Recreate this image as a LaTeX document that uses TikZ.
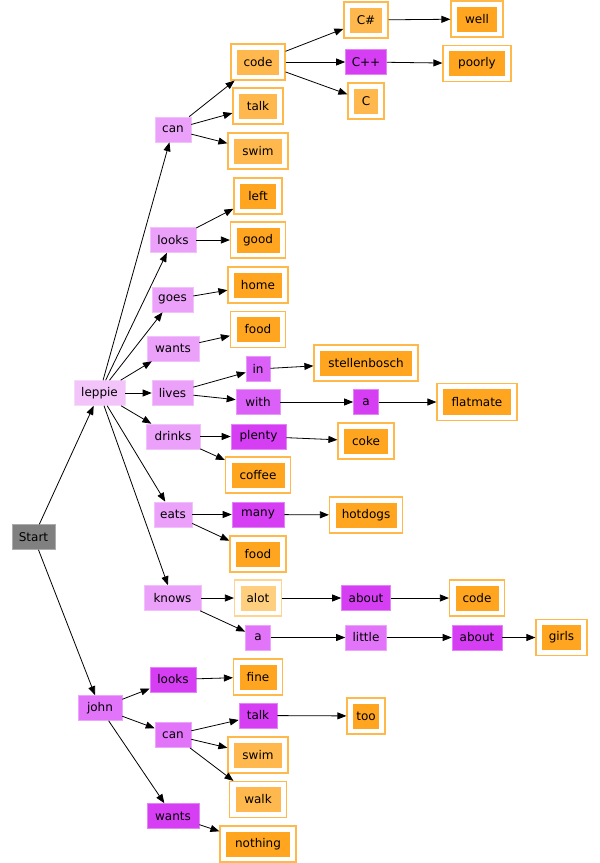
\documentclass[tikz,border=0pt]{standalone}
\usepackage{fontspec}
\setmainfont{DejaVu Sans}
\usetikzlibrary{arrows.meta}
\definecolor{cstart}{HTML}{808080}
\definecolor{czero}{HTML}{F2C4FA}
\definecolor{cone}{HTML}{EBA0F9}
\definecolor{ctwo}{HTML}{E274F9}
\definecolor{cthree}{HTML}{DA60F7}
\definecolor{cfour}{HTML}{D63EF4}
\definecolor{odark}{HTML}{FFA520}
\definecolor{olight}{HTML}{FFB84D}
\definecolor{ovlight}{HTML}{FFCF80}
\definecolor{obord}{HTML}{FFB84A}
\definecolor{obordlight}{HTML}{FFD490}
\tikzset{
  box/.style={rectangle, inner sep=0pt, minimum height=25pt, fill=#1, draw=#1!65!white, line width=0.6pt,
    font=\fontsize{12}{14}\selectfont},
  leaf/.style={rectangle, inner sep=0pt, minimum height=36pt, draw=obord, line width=1.2pt, fill=white,
    font=\fontsize{12}{14}\selectfont,
    path picture={\fill[#1] ([shift={(6pt,5.5pt)}]path picture bounding box.south west) rectangle ([shift={(-6pt,-5.5pt)}]path picture bounding box.north east);}},
  leaf/.default=odark,
  link/.style={-{Triangle[length=9pt,width=7pt]}, line width=0.8pt, black}
}
\begin{document}
\begin{tikzpicture}[x=1pt,y=-1pt]
\useasboundingbox (0,0) rectangle (600,863);
% level 0/1
\node[box=cstart, minimum width=43pt] (start) at (33.5,537) {Start};
\node[box=czero, minimum width=51pt] (leppie) at (99.5,393) {leppie};
\node[box=ctwo, minimum width=44pt] (john) at (100,708) {john};
% leppie children
\node[box=cone, minimum width=36pt] (can) at (173,129.5) {can};
\node[box=cone, minimum width=46pt] (looks) at (173,240) {looks};
\node[box=cone, minimum width=41pt] (goes) at (172.5,299.5) {goes};
\node[box=cone, minimum width=52pt] (wants) at (173,348.5) {wants};
\node[box=cone, minimum width=41pt] (lives) at (172.5,393) {lives};
\node[box=cone, minimum width=54pt] (drinks) at (173,436.5) {drinks};
\node[box=cone, minimum width=38pt] (eats) at (173,514.5) {eats};
\node[box=cone, minimum width=57pt] (knows) at (172.5,598) {knows};
% can subtree
\node[leaf=olight, minimum width=54pt] (code) at (258,62) {code};
\node[leaf=olight, minimum width=50pt] (talk) at (258,106) {talk};
\node[leaf=olight, minimum width=60pt] (swim) at (258,151) {swim};
\node[leaf=olight, minimum width=44pt] (csharp) at (366,20) {C\#};
\node[box=cfour, minimum width=41pt] (cpp) at (366,62) {C++};
\node[leaf=olight, minimum width=36pt] (cc) at (366,101) {C};
\node[leaf, minimum width=52pt] (well) at (477,19) {well};
\node[leaf, minimum width=68pt] (poorly) at (477,63.5) {poorly};
% looks, goes, wants
\node[leaf, minimum width=48pt] (left) at (258,196) {left};
\node[leaf, minimum width=55pt] (good) at (258,240) {good};
\node[leaf, minimum width=60pt] (home) at (258,285) {home};
\node[leaf, minimum width=55pt] (food) at (258,329.5) {food};
% lives
\node[box=cthree, minimum width=24pt] (in) at (258,369) {in};
\node[box=cthree, minimum width=44pt] (with) at (258,402) {with};
\node[leaf, minimum width=104pt] (stell) at (366,363) {stellenbosch};
\node[box=cfour, minimum width=25pt] (aone) at (366,402) {a};
\node[leaf, minimum width=80pt, minimum height=37pt] (flatmate) at (477,402) {flatmate};
% drinks
\node[box=cfour, minimum width=55pt] (plenty) at (258.5,436.5) {plenty};
\node[leaf, minimum width=65pt] (coffee) at (258,475) {coffee};
\node[leaf, minimum width=56pt] (coke) at (366,441) {coke};
% eats
\node[box=cfour, minimum width=52pt] (many) at (258,514.5) {many};
\node[leaf, minimum width=73pt] (hotdogs) at (366,515) {hotdogs};
\node[leaf, minimum width=56pt] (foodtwo) at (258,554) {food};
% knows
\node[leaf=ovlight, draw=obordlight, minimum width=47pt] (alot) at (258,598) {alot};
\node[box=cfour, minimum width=49pt] (aboutone) at (366,598) {about};
\node[leaf, minimum width=55pt] (codetwo) at (477,598) {code};
\node[box=ctwo, minimum width=25pt] (atwo) at (258,637.5) {a};
\node[box=ctwo, minimum width=41pt] (little) at (366,637.5) {little};
\node[box=cfour, minimum width=50pt] (abouttwo) at (477,637.5) {about};
\node[leaf, minimum width=51pt] (girls) at (561.5,637.5) {girls};
% john subtree
\node[box=cfour, minimum width=46pt] (jlooks) at (173,679.5) {looks};
\node[box=ctwo, minimum width=36pt] (jcan) at (173,735) {can};
\node[box=cfour, minimum width=52pt] (jwants) at (173,816) {wants};
\node[leaf, minimum width=49pt] (fine) at (258,677) {fine};
\node[box=cfour, minimum width=38pt] (jtalk) at (258,715.5) {talk};
\node[leaf, minimum width=38pt] (too) at (366,716) {too};
\node[leaf=olight, minimum width=60pt] (jswim) at (258,755) {swim};
\node[leaf=olight, minimum width=57pt] (walk) at (258,799.5) {walk};
\node[leaf, minimum width=76pt] (nothing) at (258,844) {nothing};
% edges
\draw[link] (start) -- (leppie);
\draw[link] (start) -- (john);
\foreach \t in {can,looks,goes,wants,lives,drinks,eats,knows}
  \draw[link] (leppie) -- (\t);
\draw[link] (can) -- (code);
\draw[link] (can) -- (talk);
\draw[link] (can) -- (swim);
\draw[link] (code) -- (csharp);
\draw[link] (code) -- (cpp);
\draw[link] (code) -- (cc);
\draw[link] (csharp) -- (well);
\draw[link] (cpp) -- (poorly);
\draw[link] (looks) -- (left);
\draw[link] (looks) -- (good);
\draw[link] (goes) -- (home);
\draw[link] (wants) -- (food);
\draw[link] (lives) -- (in);
\draw[link] (lives) -- (with);
\draw[link] (in) -- (stell);
\draw[link] (with) -- (aone);
\draw[link] (aone) -- (flatmate);
\draw[link] (drinks) -- (plenty);
\draw[link] (drinks) -- (coffee);
\draw[link] (plenty) -- (coke);
\draw[link] (eats) -- (many);
\draw[link] (eats) -- (foodtwo);
\draw[link] (many) -- (hotdogs);
\draw[link] (knows) -- (alot);
\draw[link] (knows) -- (atwo);
\draw[link] (alot) -- (aboutone);
\draw[link] (aboutone) -- (codetwo);
\draw[link] (atwo) -- (little);
\draw[link] (little) -- (abouttwo);
\draw[link] (abouttwo) -- (girls);
\draw[link] (john) -- (jlooks);
\draw[link] (john) -- (jcan);
\draw[link] (john) -- (jwants);
\draw[link] (jlooks) -- (fine);
\draw[link] (jcan) -- (jtalk);
\draw[link] (jcan) -- (jswim);
\draw[link] (jcan) -- (walk);
\draw[link] (jtalk) -- (too);
\draw[link] (jwants) -- (nothing);
\end{tikzpicture}
\end{document}
